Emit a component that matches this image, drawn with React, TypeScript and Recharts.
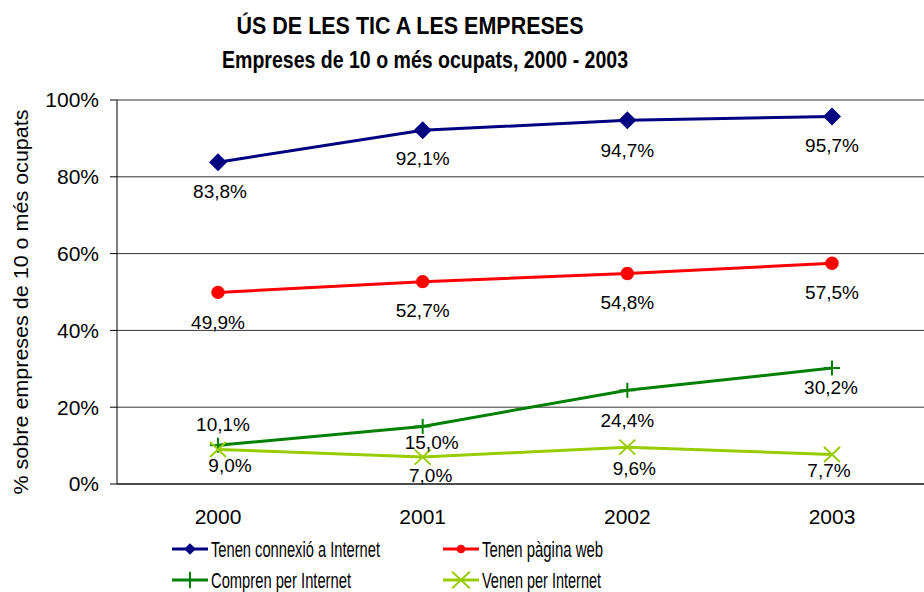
import React from "react";
import {
  LineChart,
  Line,
  XAxis,
  YAxis,
  CartesianGrid,
  LabelList,
  Legend,
} from "recharts";

const YEARS = ["2000", "2001", "2002", "2003"];

const CONNEXIO = [83.8, 92.1, 94.7, 95.7];
const PAGINA_WEB = [49.9, 52.7, 54.8, 57.5];
const COMPREN = [10.1, 15.0, 24.4, 30.2];
const VENEN = [9.0, 7.0, 9.6, 7.7];

const Y_TICKS = [0, 20, 40, 60, 80, 100];

const NAMES = {
  connexio: "Tenen connexió a Internet",
  web: "Tenen pàgina web",
  compren: "Compren per Internet",
  venen: "Venen per Internet",
};

const COLORS = {
  connexio: "#000080", // navy
  web: "#ff0000", // red
  compren: "#008000", // green
  venen: "#99cc00", // lime
};

const VALUES: Record<string, number[]> = {
  connexio: CONNEXIO,
  web: PAGINA_WEB,
  compren: COMPREN,
  venen: VENEN,
};

// where excel put each data label, relative to its point [dx, dy]
const LABEL_OFFSETS: Record<string, number[][]> = {
  connexio: [[2, 29], [0, 28], [0, 30], [0, 29]],
  web: [[0, 30], [0, 29], [0, 29], [0, 29]],
  compren: [[5, -21], [9, 16], [0, 30], [-1, 19]],
  venen: [[12, 16], [8, 18], [7, 21], [-3, 16]],
};

// legend slot (line start x, row centre y) and text width per series
const LEGEND_SLOT: Record<string, number[]> = {
  connexio: [172, 19, 169],
  web: [443, 19, 121],
  compren: [172, 50, 140],
  venen: [443, 50, 119],
};

const FONT = "'Liberation Sans', Arial, sans-serif";

const data = YEARS.map((year, i) => ({
  year,
  connexio: CONNEXIO[i],
  web: PAGINA_WEB[i],
  compren: COMPREN[i],
  venen: VENEN[i],
}));

const fmt = (v: number) => v.toFixed(1).replace(".", ",") + "%";

function Marker({ kind, cx, cy, s = 1 }: { kind: string; cx: number; cy: number; s?: number }) {
  const c = (COLORS as any)[kind];
  if (kind === "connexio") {
    const r = 9 * s;
    return (
      <path
        d={`M${cx},${cy - r}L${cx + r},${cy}L${cx},${cy + r}L${cx - r},${cy}Z`}
        fill={c}
      />
    );
  }
  if (kind === "web") {
    return <circle cx={cx} cy={cy} r={6.7 * s} fill={c} />;
  }
  if (kind === "compren") {
    return (
      <g stroke={c} strokeWidth={2}>
        <line x1={cx - 8 * s} y1={cy} x2={cx + 8 * s} y2={cy} />
        <line x1={cx} y1={cy - 7.5 * s} x2={cx} y2={cy + 7.5 * s} />
      </g>
    );
  }
  return (
    <g stroke={c} strokeWidth={2}>
      <line x1={cx - 8 * s} y1={cy - 7.5 * s} x2={cx + 8 * s} y2={cy + 7.5 * s} />
      <line x1={cx - 8 * s} y1={cy + 7.5 * s} x2={cx + 8 * s} y2={cy - 7.5 * s} />
    </g>
  );
}

const dotFor = (kind: string) => (p: any) =>
  <Marker key={kind + p.index} kind={kind} cx={p.cx} cy={p.cy} />;

const labelFor = (kind: string) => (p: any) => {
  const idx = p.index ?? VALUES[kind].indexOf(p.value);
  const [dx, dy] = LABEL_OFFSETS[kind][idx] || [0, 0];
  return (
    <text
      key={kind + "l" + idx}
      x={p.x + dx}
      y={p.y + dy}
      textAnchor="middle"
      dominantBaseline="central"
      fontSize={19}
      fontFamily={FONT}
      fill="#000"
    >
      {fmt(p.value)}
    </text>
  );
};

function renderLegend(props: any) {
  const payload = props.payload || [];
  return (
    <svg width={924} height={62}>
      {payload.map((item: any) => {
        const kind = String(item.dataKey);
        const [x, y, w] = LEGEND_SLOT[kind];
        return (
          <g key={kind}>
            <line x1={x} y1={y} x2={x + 36} y2={y} stroke={(COLORS as any)[kind]} strokeWidth={3} />
            <Marker kind={kind} cx={x + 18} cy={y} s={kind === "compren" || kind === "venen" ? 1.1 : 0.65} />
            <text
              x={x + 39}
              y={y + 7.5}
              fontSize={22}
              fontFamily={FONT}
              textLength={w}
              lengthAdjust="spacingAndGlyphs"
              fill="#000"
            >
              {item.value}
            </text>
          </g>
        );
      })}
    </svg>
  );
}

export default function App() {
  return (
    <div
      style={{
        position: "absolute",
        left: 0,
        top: 0,
        width: 924,
        height: 592,
        overflow: "hidden",
        background: "#fff",
      }}
    >
      <LineChart
        width={940}
        height={592}
        data={data}
        margin={{ top: 100, right: 0, bottom: 68, left: 0 }}
        style={{ fontFamily: FONT }}
      >
        <CartesianGrid vertical={false} stroke="#333" />
        <XAxis
          dataKey="year"
          height={40}
          padding={{ left: 101, right: 108 }}
          axisLine={{ stroke: "#000" }}
          tickLine={false}
          tickSize={0}
          tickMargin={25}
          tick={{ fill: "#000", fontSize: 21 }}
        />
        <YAxis
          width={117}
          domain={[0, 100]}
          ticks={Y_TICKS}
          tickFormatter={(v) => v + "%"}
          axisLine={{ stroke: "#000" }}
          tickLine={{ stroke: "#000" }}
          tickSize={7}
          tickMargin={11}
          tick={{ fill: "#000", fontSize: 21 }}
        />
        {(["connexio", "web", "compren", "venen"] as const).map((k) => (
          <Line
            key={k}
            dataKey={k}
            name={NAMES[k]}
            stroke={COLORS[k]}
            strokeWidth={3}
            dot={dotFor(k)}
            activeDot={false}
            isAnimationActive={false}
          >
            <LabelList dataKey={k} content={labelFor(k)} />
          </Line>
        ))}
        <Legend
          layout="horizontal"
          verticalAlign="middle"
          align="center"
          wrapperStyle={{ left: 0, top: 530, width: 924, height: 62 }}
          content={renderLegend}
        />
      </LineChart>

      <svg
        width={924}
        height={592}
        style={{ position: "absolute", left: 0, top: 0, pointerEvents: "none" }}
        fontFamily={FONT}
      >
        <text
          x={410}
          y={34}
          textAnchor="middle"
          fontSize={24}
          fontWeight="bold"
          textLength={347}
          lengthAdjust="spacingAndGlyphs"
        >
          ÚS DE LES TIC A LES EMPRESES
        </text>
        <text
          x={425}
          y={68}
          textAnchor="middle"
          fontSize={24}
          fontWeight="bold"
          textLength={406}
          lengthAdjust="spacingAndGlyphs"
        >
          Empreses de 10 o més ocupats, 2000 - 2003
        </text>
        <text
          x={28}
          y={302}
          transform="rotate(-90 28 302)"
          textAnchor="middle"
          fontSize={20}
          textLength={385}
          lengthAdjust="spacingAndGlyphs"
        >
          % sobre empreses de 10 o més ocupats
        </text>
      </svg>
    </div>
  );
}
